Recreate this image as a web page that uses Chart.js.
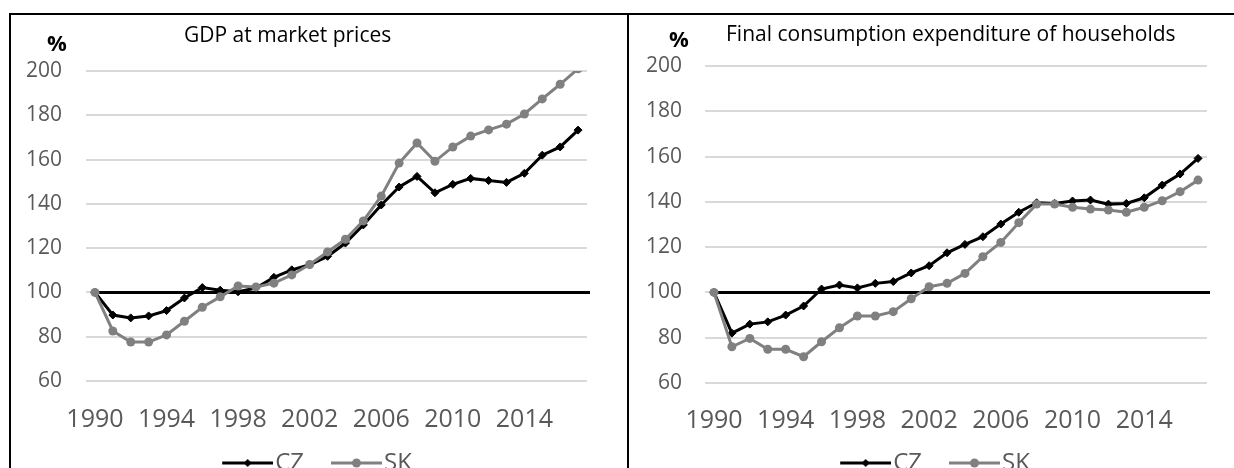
<!DOCTYPE html>
<html>
<head>
<meta charset="utf-8">
<script src="https://cdn.jsdelivr.net/npm/chart.js@4"></script>
<style>
  html, body { margin: 0; padding: 0; background: #fff; }
  body { width: 1234px; height: 468px; overflow: hidden; position: relative; font-family: 'Open Sans', sans-serif; }
  .rule { position: absolute; background: #000; }
  .box { position: absolute; top: 15px; height: 470px; }
  .title { position: absolute; font-size: 21px; line-height: 1; color: #000; white-space: nowrap; }
  .unit { position: absolute; font-size: 22px; line-height: 1; font-weight: bold; color: #000; }
</style>
</head>
<body>

<!-- table borders -->
<div class="rule" style="left:9px; top:13px; width:1225px; height:1.5px;"></div>
<div class="rule" style="left:9px; top:13px; width:2px; height:455px;"></div>
<div class="rule" style="left:9px; top:13px; width:13px; height:2px;"></div>
<div class="rule" style="left:626.5px; top:13px; width:2px; height:455px;"></div>
<div class="rule" style="left:623px; top:13.5px; width:19px; height:1.5px;"></div>

<div class="box" style="left:11px; width:614px;"><canvas id="gdpChart"></canvas></div>
<div class="box" style="left:629px; width:605px;"><canvas id="consChart"></canvas></div>

<div class="title" style="left:184px; top:23.5px;">GDP at market prices</div>
<div class="unit" style="left:47px; top:30.5px;">%</div>
<div class="title" style="left:726px; top:22.5px;">Final consumption expenditure of households</div>
<div class="unit" style="left:669px; top:27px;">%</div>

<script>
// index 1990 = 100
const years = ['1990', '1991', '1992', '1993', '1994', '1995', '1996', '1997', '1998', '1999',
               '2000', '2001', '2002', '2003', '2004', '2005', '2006', '2007', '2008', '2009',
               '2010', '2011', '2012', '2013', '2014', '2015', '2016', '2017'];
const yearTicks = ['1990', '1994', '1998', '2002', '2006', '2010', '2014'];
const seriesNames = ['CZ', 'SK'];
const baseValue = 100;

const gdpCZ = [100, 89.8, 88.5, 89.4, 91.8, 97.5, 102.2, 101, 100.3, 102, 106.8, 110.2, 112.5, 116.3,
               122.3, 130.5, 139.5, 147.6, 152.4, 145, 148.8, 151.5, 150.5, 149.7, 153.8, 162, 165.7, 173.3];
const gdpSK = [100, 82.6, 77.6, 77.6, 80.8, 87, 93.3, 98, 102.9, 102.5, 104.2, 107.9, 112.6, 118.3,
               124, 132.3, 143.5, 158.4, 167.5, 159.2, 165.7, 170.6, 173.4, 176, 180.6, 187.4, 194, 201];

const consCZ = [100, 82, 86, 87, 90, 94, 101.5, 103.3, 102, 104, 104.8, 108.6, 111.8, 117.5,
                121.2, 124.6, 130.2, 135.4, 139.6, 139.3, 140.4, 140.8, 139, 139.3, 141.8, 147.4, 152.3, 159.2];
const consSK = [100, 76, 79.7, 74.9, 74.9, 71.6, 78.2, 84.4, 89.6, 89.6, 91.5, 97.2, 102.5, 104,
                108.4, 115.8, 122.1, 130.8, 139, 139, 137.6, 136.8, 136.4, 135.4, 137.6, 140.5, 144.5, 149.6];

Chart.defaults.font.family = "'Open Sans', sans-serif";
Chart.defaults.color = '#595959';

const czColor = '#000000';
const skColor = '#808080';

// legend symbol: line with marker, drawn in the right part of a wider image
// so that it sits close to its label text
function legendSymbol(color, marker) {
    const c = document.createElement('canvas');
    c.width = 78;
    c.height = 12;
    const g = c.getContext('2d');
    g.strokeStyle = color;
    g.fillStyle = color;
    g.lineWidth = 3;
    g.beginPath();
    g.moveTo(27, 6);
    g.lineTo(78, 6);
    g.stroke();
    g.beginPath();
    if (marker === 'diamond') {
        g.moveTo(52.5, 2); g.lineTo(56.5, 6); g.lineTo(52.5, 10); g.lineTo(48.5, 6);
        g.closePath();
    } else {
        g.arc(52.5, 6, 4.5, 0, Math.PI * 2);
    }
    g.fill();
    return c;
}
const symbols = [legendSymbol(czColor, 'diamond'), legendSymbol(skColor, 'circle')];

// horizontal reference line at 100
const baseLine = {
    id: 'baseLine',
    beforeDatasetsDraw(chart) {
        const {ctx, chartArea, scales} = chart;
        const py = scales.y.getPixelForValue(baseValue);
        ctx.save();
        ctx.strokeStyle = '#000';
        ctx.lineWidth = 3;
        ctx.beginPath();
        ctx.moveTo(scales.x.getPixelForValue(0), py);
        ctx.lineTo(chartArea.right + 3, py);
        ctx.stroke();
        ctx.restore();
    }
};

function makeChart(id, cz, sk, lay) {
    const ctx = document.getElementById(id).getContext('2d');
    return new Chart(ctx, {
        type: 'line',
        data: {
            labels: years,
            datasets: [
                {
                    label: seriesNames[0],
                    data: cz,
                    borderColor: czColor,
                    backgroundColor: czColor,
                    borderWidth: 3,
                    pointStyle: 'rectRot',
                    pointRadius: 4,
                    pointBorderWidth: 1,
                    tension: 0,
                    order: 1,
                    clip: 0
                },
                {
                    label: seriesNames[1],
                    data: sk,
                    borderColor: skColor,
                    backgroundColor: skColor,
                    borderWidth: 3,
                    pointStyle: 'circle',
                    pointRadius: 4.5,
                    pointBorderWidth: 0,
                    tension: 0,
                    order: 0,
                    clip: 0
                }
            ]
        },
        options: {
            responsive: true,
            maintainAspectRatio: false,
            animation: false,
            layout: {
                padding: { top: lay.top, left: 0, right: lay.padRight, bottom: 0 }
            },
            scales: {
                x: {
                    type: 'category',
                    offset: true,
                    grid: { display: false, drawTicks: false },
                    border: { display: false },
                    ticks: {
                        autoSkip: false,
                        maxRotation: 0,
                        padding: lay.xPad,
                        font: { size: 25 },
                        callback: function (value) {
                            const lab = this.getLabelForValue(value);
                            return yearTicks.includes(lab) ? lab : '';
                        }
                    },
                    afterFit: s => { s.height = lay.xHeight; }
                },
                y: {
                    min: 60,
                    max: 200,
                    grid: { color: '#d9d9d9', lineWidth: 2, drawTicks: false },
                    border: { display: false },
                    ticks: { stepSize: 20, padding: lay.yPad, font: { size: 21 } },
                    afterFit: s => { s.width = lay.yWidth; }
                },
                pad: {
                    type: 'linear',
                    position: 'right',
                    grid: { display: false },
                    border: { display: false },
                    ticks: { display: false },
                    afterFit: s => { s.width = lay.right; }
                }
            },
            plugins: {
                tooltip: { enabled: false },
                legend: {
                    position: 'bottom',
                    labels: {
                        usePointStyle: true,
                        pointStyleWidth: 58,
                        padding: 10,
                        color: '#595959',
                        font: { size: 24 },
                        generateLabels: chart => chart.data.datasets.map((ds, i) => ({
                            text: ds.label,
                            pointStyle: symbols[i],
                            fillStyle: ds.borderColor,
                            strokeStyle: ds.borderColor,
                            lineWidth: 0,
                            fontColor: '#595959',
                            hidden: false,
                            datasetIndex: i
                        }))
                    }
                }
            }
        },
        plugins: [baseLine]
    });
}

makeChart('gdpChart', gdpCZ, gdpSK, { top: 56, yWidth: 75, yPad: 24, padRight: 19, right: 19, xPad: 24, xHeight: 60 });
makeChart('consChart', consCZ, consSK, { top: 51, yWidth: 76, yPad: 23, padRight: 10, right: 17, xPad: 23, xHeight: 58 });
</script>
</body>
</html>
